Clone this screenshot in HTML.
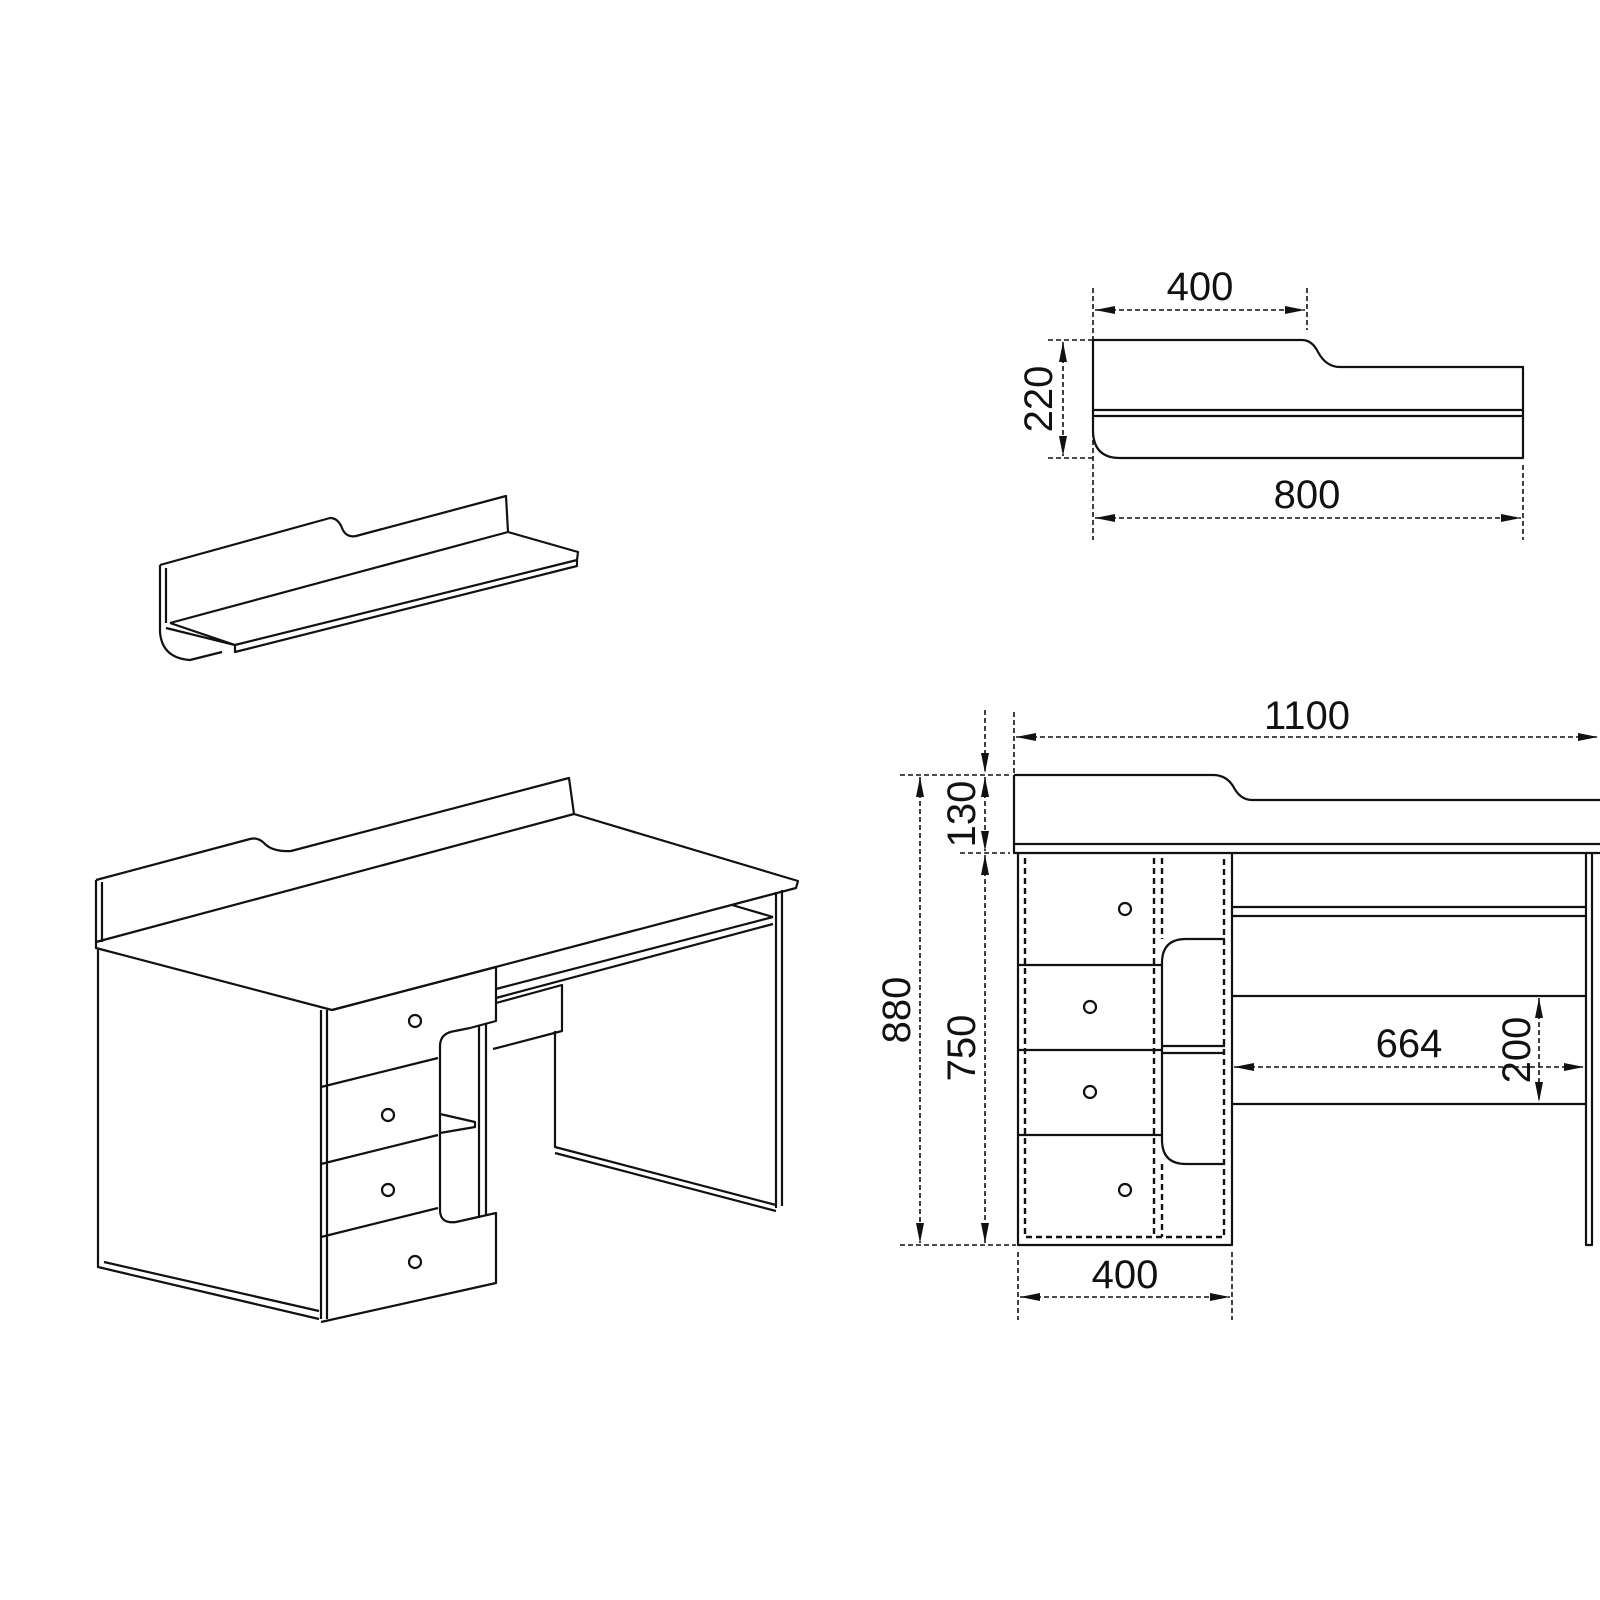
<!DOCTYPE html>
<html><head><meta charset="utf-8"><style>
html,body{margin:0;padding:0;background:#fff;width:1600px;height:1600px;overflow:hidden}
text{font-family:"Liberation Sans",sans-serif;fill:#111}
</style></head><body>
<svg width="1600" height="1600" viewBox="0 0 1600 1600" xmlns="http://www.w3.org/2000/svg">
<defs>
<marker id="a" viewBox="0 0 20 10" refX="20" refY="5" markerWidth="20" markerHeight="10" markerUnits="userSpaceOnUse" orient="auto-start-reverse"><path d="M20,5 L0,1 L0,9 Z" fill="#111"/></marker>
</defs>
<g fill="none" stroke="#111" stroke-width="2.2" stroke-linejoin="round">
<!-- isometric shelf -->
<path d="M160,565 L330,518 Q338,518 342,528 Q346,538 356,536 L506,496 L508,532"/>
<path d="M160,565 L160,632 Q162,658 190,660 L222,652"/>
<path d="M166,568 L166,623"/>
<path d="M170,623 L508,532 L578,552 L577,560 L235,645 L170,623"/>
<path d="M235,645 L235,652 L577,566 L577,560"/>
<path d="M166,628 L235,645"/>
<!-- isometric desk -->
<path d="M96,880 L250,839 Q258,837 264,843 Q272,852 291,851 L569,778 L574,814"/>
<path d="M96,880 L96,942 M102,882 L102,942"/>
<path d="M96,942 L574,814 L798,881 L796,888 L332,1010 L96,948 Z"/>
<path d="M98,948 L98,1267 L319,1319"/>
<path d="M104,1262 L319,1311"/>
<path d="M321,1010 L321,1319 M327,1010 L327,1319"/>
<!-- cabinet front -->
<path d="M332,1010 L496,967 L496,1021 L470,1028"/>
<path d="M321,1087 L438,1058"/>
<path d="M321,1164 L438,1135"/>
<path d="M321,1237 L438,1208"/>
<path d="M470,1028 L455,1031 Q440,1033 440,1046 L440,1210 Q440,1224 456,1222 L496,1213 L496,1283 L321,1322"/>
<path d="M479,1026 L479,1218 M486,1024 L486,1216"/>
<path d="M440,1114 L475,1122 L475,1127 L440,1133"/>
<circle cx="415" cy="1021" r="6"/><circle cx="388" cy="1115" r="6"/><circle cx="388" cy="1190" r="6"/><circle cx="415" cy="1262" r="6"/>
<!-- keyboard shelf and leg -->
<path d="M496,989 L773,917 M496,998 L773,924"/>
<path d="M732,905 L773,917"/>
<path d="M496,1003 L562,985 L562,1031 L493,1049"/>
<path d="M555,1031 L555,1147 L776,1205"/>
<path d="M555,1153 L776,1211"/>
<path d="M776,892 L776,1208 M782,890 L782,1206"/>

<!-- top right view -->
<path d="M1093,340 L1302,340 Q1312,340 1318,352 Q1326,367 1340,367 L1523,367 L1523,458 L1120,458 Q1093,458 1093,430 Z"/>
<path d="M1093,410 L1523,410 M1093,416 L1523,416"/>
<g stroke-width="1.6" stroke-dasharray="5,3">
<path d="M1093,288 L1093,540 M1307,288 L1307,330 M1523,465 L1523,540"/>
<path d="M1048,340 L1093,340 M1048,458 L1093,458"/>
</g>
<g stroke-width="1.6" stroke-dasharray="5,3">
<path d="M1095,310 L1305,310" marker-start="url(#a)" marker-end="url(#a)"/>
<path d="M1095,518 L1521,518" marker-start="url(#a)" marker-end="url(#a)"/>
<path d="M1063,342 L1063,456" marker-start="url(#a)" marker-end="url(#a)"/>
</g>

<!-- front view -->
<path d="M1014,775 L1213,775 Q1226,775 1233,786 Q1240,800 1252,800 L1600,800"/>
<path d="M1014,775 L1014,853 L1600,853 M1014,844 L1600,844"/>
<path d="M1018,853 L1018,1245 L1232,1245 L1232,853"/>
<path d="M1018,965 L1162,965 M1018,1050 L1162,1050 M1018,1135 L1162,1135"/>
<path d="M1225,939 L1186,939 Q1162,939 1162,963 L1162,1140 Q1162,1164 1186,1164 L1225,1164"/>
<path d="M1162,1046 L1225,1046 M1162,1053 L1225,1053"/>
<path d="M1232,907 L1586,907 M1232,916 L1586,916 M1232,996 L1586,996 M1232,1104 L1586,1104"/>
<path d="M1586,853 L1586,1245 L1592,1245 L1592,853"/>
<circle cx="1125" cy="909" r="6"/><circle cx="1090" cy="1007" r="6"/><circle cx="1090" cy="1092" r="6"/><circle cx="1125" cy="1190" r="6"/>
<g stroke-width="2.4" stroke-dasharray="6,4">
<path d="M1025,858 L1025,1237 L1224,1237 L1224,858 M1154,858 L1154,1237 M1162,858 L1162,939 M1162,1164 L1162,1237"/>
</g>
<g stroke-width="1.6" stroke-dasharray="5,3">
<path d="M1014,712 L1014,775"/>
<path d="M1016,737 L1598,737" marker-start="url(#a)" marker-end="url(#a)"/>
<path d="M900,775 L1010,775 M960,853 L1010,853 M900,1245 L1016,1245"/>
<path d="M985,710 L985,773" marker-end="url(#a)"/>
<path d="M985,777 L985,851" marker-start="url(#a)" marker-end="url(#a)"/>
<path d="M985,855 L985,1243" marker-start="url(#a)" marker-end="url(#a)"/>
<path d="M920,777 L920,1243" marker-start="url(#a)" marker-end="url(#a)"/>
<path d="M1234,1067 L1584,1067" marker-start="url(#a)" marker-end="url(#a)"/>
<path d="M1539,998 L1539,1102" marker-start="url(#a)" marker-end="url(#a)"/>
<path d="M1018,1252 L1018,1320 M1232,1252 L1232,1320"/>
<path d="M1020,1297 L1230,1297" marker-start="url(#a)" marker-end="url(#a)"/>
</g>
</g>
<g font-size="40">
<text x="1200" y="300" text-anchor="middle">400</text>
<text x="1307" y="508" text-anchor="middle">800</text>
<text transform="translate(1052,399) rotate(-90)" text-anchor="middle">220</text>
<text x="1307" y="729" text-anchor="middle">1100</text>
<text x="1409" y="1057" text-anchor="middle">664</text>
<text transform="translate(1530,1050) rotate(-90)" text-anchor="middle">200</text>
<text x="1125" y="1288" text-anchor="middle">400</text>
<text transform="translate(910,1010) rotate(-90)" text-anchor="middle">880</text>
<text transform="translate(975,1048) rotate(-90)" text-anchor="middle">750</text>
<text transform="translate(975,814) rotate(-90)" text-anchor="middle">130</text>
</g>
</svg>
</body></html>
